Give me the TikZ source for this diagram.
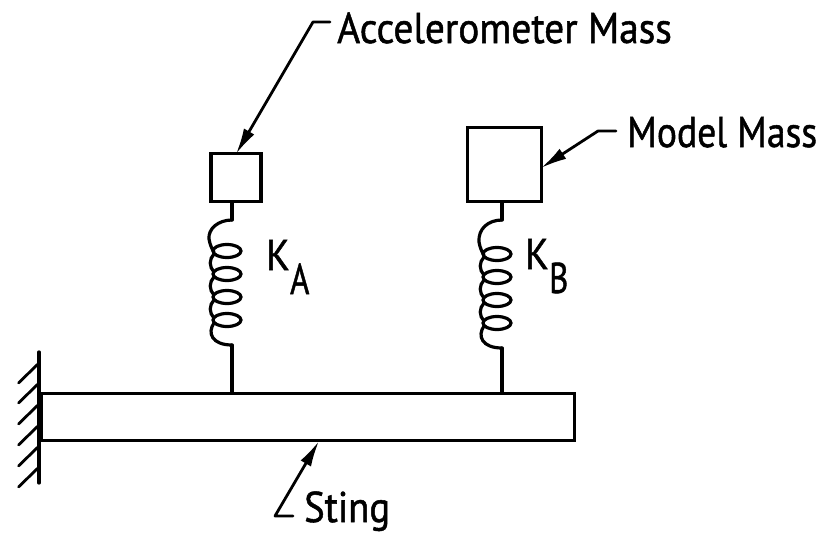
\documentclass[tikz,border=0pt]{standalone}
\usepackage{fontspec}
\usetikzlibrary{arrows.meta}
\newfontfamily\labfont[FakeBold=1.2]{PT Sans}
\tikzset{
  ln/.style={line width=3.3pt,line cap=round,line join=round},
  coil/.style={line width=3.2pt,line cap=round},
  lead/.style={line width=2.8pt,line join=round,line cap=round,-{Latex[length=26pt,width=12pt]}},
  mass/.style={draw,line width=3.6pt,inner sep=0pt},
  lab/.style={inner sep=0pt,anchor=base west,font=\labfont\fontsize{43pt}{43pt}\selectfont,xscale=.9,transform shape}
}
\newcommand{\spring}[4]{% x, top y of coil, first loop y, bottom y of coil
  \draw[coil] (#1,#2) .. controls (#1-14,#2) and (#1-24,#2+9) .. (#1-23,#3-12) .. controls (#1-22,#3-6) and (#1-20,#3-2) .. (#1-18,#3+1);
  \foreach \k in {0,1,2,3}{
    \draw[coil] (#1-5,#3+23*\k) ellipse [x radius=14,y radius=6.5];
  }
  \foreach \k in {0,1,2}{
    \draw[coil] (#1-18,#3+3+23*\k) .. controls (#1-23,#3+8+23*\k) and (#1-23,#3+16+23*\k) .. (#1-18,#3+21+23*\k);
  }
  \draw[coil] (#1-18,#3+72) .. controls (#1-25,#3+82) and (#1-20,#4) .. (#1,#4);
}
\begin{document}
\begin{tikzpicture}[x=1pt,y=-1pt]
\useasboundingbox (0,0) rectangle (825,541);
% wall and sting
\coordinate (w1) at (39,352); \coordinate (w2) at (39,483);
\draw[ln] (w1) -- (w2);
\foreach \yy in {364,384,405,426,447,468}{
  \draw[line width=2.8pt,line cap=round] (38,\yy) -- (18.5,\yy+19);
}
\node[draw,line width=3.4pt,minimum width=533pt,minimum height=47pt,inner sep=0pt,anchor=north west] (sting) at (40,392) {};
% masses
\node[mass,minimum width=50pt,minimum height=48pt] (ma) at (236,177.5) {};
\node[mass,minimum width=74pt,minimum height=74pt] (mb) at (504.5,164.5) {};
% springs
\coordinate (atop) at (232,220); \coordinate (abot) at (232,345);
\coordinate (btop) at (502,220); \coordinate (bbot) at (502,348);
\draw[ln] (ma.south -| atop) -- (atop);
\draw[ln] (abot) -- (abot |- sting.north);
\draw[ln] (mb.south -| btop) -- (btop);
\draw[ln] (bbot) -- (bbot |- sting.north);
\spring{232}{220}{251}{345}
\spring{502}{220}{254}{348}
% labels
\node[lab,xscale=1.017] (l1) at (337,43) {Accelerometer Mass};
\node[lab,xscale=.97] (l2) at (627,147) {Model Mass};
\node[lab] (l3) at (304,522) {Sting};
\node[lab] (ka) at (266,270) {K};
\node[lab,xscale=.85] (kaa) at (290,294) {A};
\node[lab] (kb) at (525,269) {K};
\node[lab,xscale=.85] (kbb) at (549,293) {B};
% leaders
\coordinate (a0) at (330,22); \coordinate (a1) at (313,22);
\coordinate (b0) at (616,131); \coordinate (b1) at (598,131);
\coordinate (c0) at (293,516); \coordinate (c1) at (275,516);
\draw[lead] (a0) -- (a1) -- (236,154);
\draw[lead] (b0) -- (b1) -- (541,168);
\draw[lead] (c0) -- (c1) -- (319,441);
\end{tikzpicture}
\end{document}
